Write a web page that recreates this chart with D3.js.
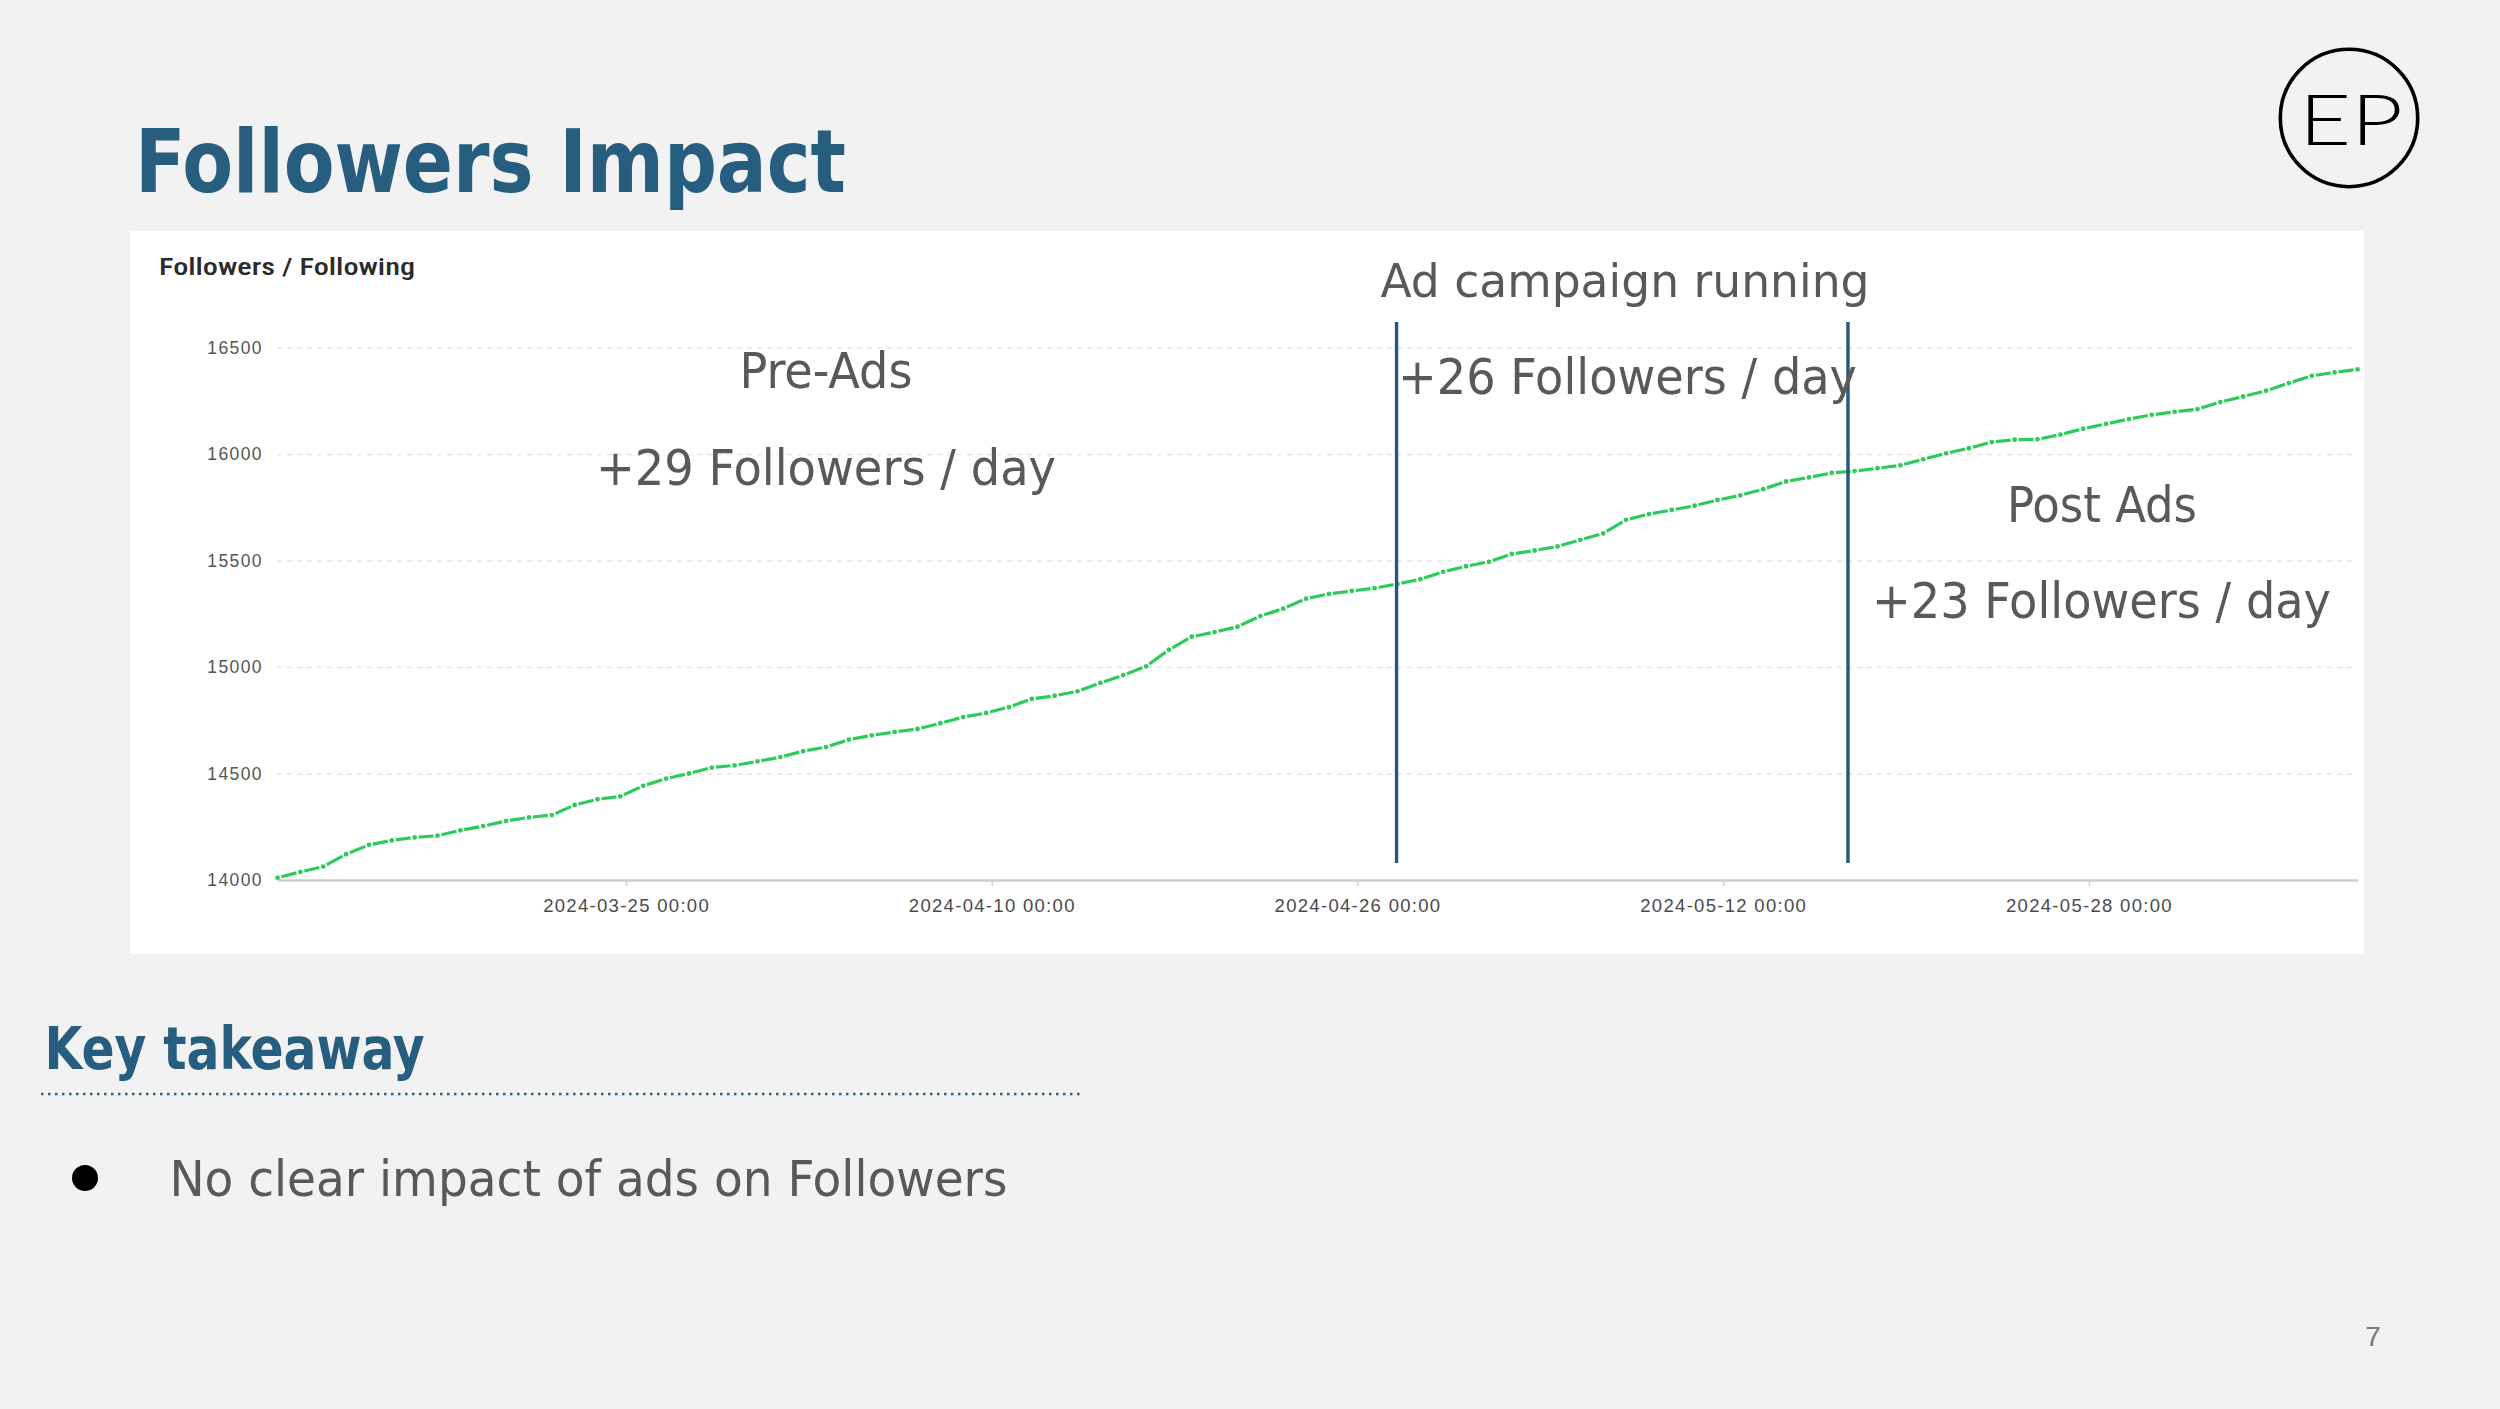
<!DOCTYPE html>
<html>
<head>
<meta charset="utf-8">
<script src="https://cdn.jsdelivr.net/npm/d3@7"></script>
<style>
  body { margin: 0; background: #f2f2f2; }
  svg { display: block; }
  .slide { font-family: "DejaVu Sans Condensed", "DejaVu Sans", sans-serif; font-stretch: condensed; }
  .chart text { font-family: "Liberation Sans", Arial, sans-serif; }
</style>
</head>
<body>
<div id="slide"></div>
<script>
const W = 2500, H = 1409;

// daily follower counts, first point 2024-03-09 18:00
const startTime = "2024-03-09T18:00";
const followers = [
  14011, 14038, 14063, 14121, 14165, 14186, 14200, 14208, 14233, 14253, 14277, 14294,
  14305, 14352, 14379, 14393, 14442, 14476, 14500, 14528, 14538, 14557, 14577,
  14605, 14624, 14659, 14679, 14695, 14709, 14736, 14765, 14784, 14812, 14850, 14865,
  14886, 14925, 14962, 15003, 15081, 15142, 15164, 15189, 15239, 15274, 15321,
  15343, 15357, 15370, 15390, 15412, 15447, 15473, 15494, 15531, 15547, 15566, 15597,
  15627, 15691, 15718, 15737, 15757, 15784, 15806, 15835, 15871, 15890, 15911,
  15920, 15933, 15947, 15975, 16003, 16027, 16056, 16067, 16069, 16091, 16119, 16141,
  16164, 16184, 16198, 16211, 16244, 16270, 16297, 16333, 16367, 16383, 16397
];
const yTicks = [14000, 14500, 15000, 15500, 16000, 16500];
const xTicks = ["2024-03-25T00:00", "2024-04-10T00:00", "2024-04-26T00:00", "2024-05-12T00:00", "2024-05-28T00:00"];
const adPeriod = ["2024-04-27T17:00", "2024-05-17T11:00"];

// slide texts
const titleText = "Followers Impact";
const chartLabel = "Followers / Following";
const annotations = [
  { text: "Pre-Ads", x: 826, y: 388, size: 49, len: 173 },
  { text: "+29 Followers / day", x: 826, y: 485, size: 50, len: 460 },
  { text: "Ad campaign running", x: 1625, y: 297, size: 47, len: 489 },
  { text: "+26 Followers / day", x: 1627.5, y: 394, size: 50, len: 459 },
  { text: "Post Ads", x: 2102, y: 522, size: 49, len: 190 },
  { text: "+23 Followers / day", x: 2101.5, y: 618, size: 50, len: 459 }
];
const takeawayTitle = "Key takeaway";
const takeaways = ["No clear impact of ads on Followers"];
const pageNo = "7";

const parseTime = d3.utcParse("%Y-%m-%dT%H:%M");
const t0 = parseTime(startTime);
const data = followers.map((v, i) => ({ date: d3.utcDay.offset(t0, i), value: v }));

const svg = d3.select("#slide").append("svg")
  .attr("width", W).attr("height", H)
  .attr("class", "slide");

svg.append("rect").attr("width", W).attr("height", H).attr("fill", "#f2f2f2");

// title
svg.append("text")
  .attr("x", 135).attr("y", 192)
  .attr("font-size", 87).attr("font-weight", "bold")
  .attr("fill", "#275d7e")
  .attr("textLength", 711).attr("lengthAdjust", "spacingAndGlyphs")
  .text(titleText);

// logo
const logo = svg.append("g").attr("transform", "translate(2349,118)");
logo.append("circle").attr("r", 68.7).attr("fill", "none").attr("stroke", "#000").attr("stroke-width", 3.6);
logo.append("text")
  .attr("x", 2).attr("y", 27)
  .attr("text-anchor", "middle")
  .style("font-family", "Lato, 'Open Sans', sans-serif")
  .attr("font-weight", 300).attr("font-size", 70)
  .attr("fill", "#000")
  .attr("textLength", 104).attr("lengthAdjust", "spacingAndGlyphs")
  .text("EP");

// chart panel
const chart = svg.append("g").attr("class", "chart");
chart.append("rect")
  .attr("x", 130).attr("y", 231).attr("width", 2234).attr("height", 723)
  .attr("fill", "#fff");

chart.append("text")
  .attr("x", 159).attr("y", 275)
  .style("font-family", "Roboto, 'Liberation Sans', sans-serif")
  .attr("font-size", 23).attr("font-weight", 500)
  .attr("fill", "#2b2b2b")
  .attr("textLength", 256).attr("lengthAdjust", "spacingAndGlyphs")
  .text(chartLabel);

const x = d3.scaleUtc()
  .domain(d3.extent(data, d => d.date))
  .range([277.5, 2357.5]);
const y = d3.scaleLinear()
  .domain([14000, 16500])
  .range([880, 347.5]);

// grid + y labels
const yAxis = chart.append("g")
  .attr("transform", "translate(277,0)")
  .call(d3.axisLeft(y).tickValues(yTicks).tickSize(-2080).tickPadding(14).tickFormat(d3.format("d")));
yAxis.select(".domain").remove();
yAxis.selectAll(".tick line")
  .attr("stroke", "#e4e4e4").attr("stroke-width", 1.5).attr("stroke-dasharray", "5,5");
yAxis.selectAll(".tick text")
  .attr("font-size", 17.5).attr("fill", "#555").style("letter-spacing", "1.4px");

// x axis
const xAxis = chart.append("g")
  .attr("transform", "translate(0,880)")
  .call(d3.axisBottom(x)
    .tickValues(xTicks.map(parseTime))
    .tickSize(6).tickSizeOuter(0).tickPadding(13)
    .tickFormat(d3.utcFormat("%Y-%m-%d %H:%M")));
xAxis.select(".domain").attr("stroke", "#cfcfcf").attr("stroke-width", 2.5);
xAxis.selectAll(".tick line").attr("stroke", "#cfcfcf").attr("stroke-width", 1.5);
xAxis.selectAll(".tick text")
  .attr("font-size", 18.5).attr("fill", "#4a4a4a").style("letter-spacing", "1.3px");

// followers line: dash per day, dot per point
const green = "#2dca5c";
const gap = 4;
chart.append("g").selectAll("line")
  .data(d3.pairs(data))
  .join("line")
  .each(function ([a, b]) {
    const x1 = x(a.date), y1 = y(a.value), x2 = x(b.date), y2 = y(b.value);
    const len = Math.hypot(x2 - x1, y2 - y1);
    const ux = (x2 - x1) / len, uy = (y2 - y1) / len;
    d3.select(this)
      .attr("x1", x1 + ux * gap).attr("y1", y1 + uy * gap)
      .attr("x2", x2 - ux * gap).attr("y2", y2 - uy * gap);
  })
  .attr("stroke", green).attr("stroke-width", 3.2).attr("stroke-linecap", "butt");

chart.append("g").selectAll("circle")
  .data(data)
  .join("circle")
  .attr("cx", d => x(d.date)).attr("cy", d => y(d.value))
  .attr("r", 2.4).attr("fill", green);

// ad campaign markers
chart.append("g").selectAll("line")
  .data(adPeriod.map(parseTime))
  .join("line")
  .attr("x1", d => x(d)).attr("x2", d => x(d))
  .attr("y1", 322).attr("y2", 863)
  .attr("stroke", "#24587c").attr("stroke-width", 3.4);

// annotations
svg.append("g").selectAll("text")
  .data(annotations)
  .join("text")
  .attr("x", d => d.x).attr("y", d => d.y)
  .attr("text-anchor", "middle")
  .attr("font-size", d => d.size)
  .attr("fill", "#595959")
  .attr("textLength", d => d.len).attr("lengthAdjust", "spacingAndGlyphs")
  .text(d => d.text);

// key takeaway
svg.append("text")
  .attr("x", 44.6).attr("y", 1069)
  .attr("font-size", 59).attr("font-weight", "bold")
  .attr("fill", "#275d7e")
  .attr("textLength", 380).attr("lengthAdjust", "spacingAndGlyphs")
  .text(takeawayTitle);

svg.append("line")
  .attr("x1", 41).attr("x2", 1081).attr("y1", 1094).attr("y2", 1094)
  .attr("stroke", "#2a5f80").attr("stroke-width", 2.5).attr("stroke-dasharray", "2.5,4.5");

const bullets = svg.append("g").selectAll("g")
  .data(takeaways)
  .join("g")
  .attr("transform", (d, i) => `translate(0,${i * 80})`);
bullets.append("circle").attr("cx", 85).attr("cy", 1178).attr("r", 13).attr("fill", "#000");
bullets.append("text")
  .attr("x", 169.4).attr("y", 1196)
  .attr("font-size", 50).attr("fill", "#595959")
  .attr("textLength", 838).attr("lengthAdjust", "spacingAndGlyphs")
  .text(d => d);

// page number
svg.append("text")
  .attr("x", 2373).attr("y", 1346)
  .attr("text-anchor", "middle")
  .style("font-family", "'Liberation Sans', Arial, sans-serif")
  .attr("font-size", 28).attr("fill", "#7a7a7a")
  .text(pageNo);
</script>
</body>
</html>
